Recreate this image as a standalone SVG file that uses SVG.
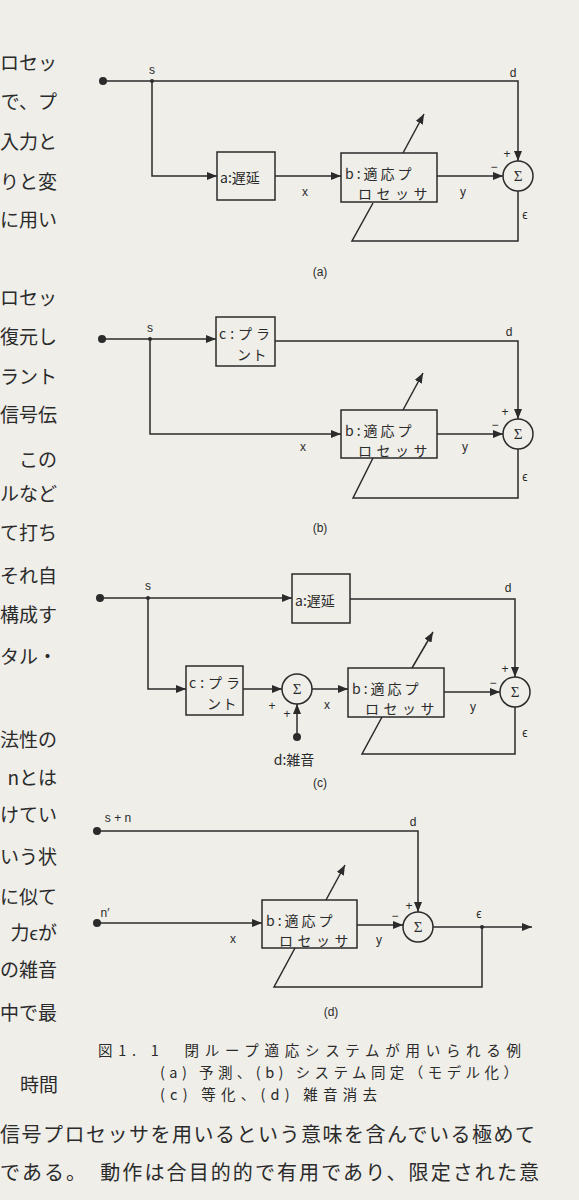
<svg xmlns="http://www.w3.org/2000/svg" width="579" height="1200" viewBox="0 0 579 1200">
<defs>
<marker id="ah" viewBox="0 0 10 8" refX="10" refY="4" markerWidth="10" markerHeight="8" markerUnits="userSpaceOnUse" orient="auto">
<path d="M0,0 L10,4 L0,8 z" fill="#2b2b2b"/>
</marker>
<style>
.bg{fill:#efeee9}
.ln{fill:none;stroke:#2b2b2b;stroke-width:1.5}
.ar{fill:none;stroke:#2b2b2b;stroke-width:1.5;marker-end:url(#ah)}
.box{fill:none;stroke:#2b2b2b;stroke-width:1.5}
.dot{fill:#2b2b2b}
.bt{font-family:"Noto Sans CJK JP","Noto Sans",sans-serif;font-size:14px;fill:#2b2b2b}
.b1{letter-spacing:3px}
.b2{letter-spacing:4.5px}
.p1{letter-spacing:4px}
.p2{letter-spacing:1.5px}
.lb{font-family:"Liberation Sans","DejaVu Sans",sans-serif;font-size:12px;fill:#2b2b2b;text-anchor:middle}
.sg{font-family:"Liberation Serif","DejaVu Serif",serif;font-size:15px;fill:#2b2b2b;text-anchor:middle}
.pg{font-family:"Noto Sans CJK JP",sans-serif;font-size:19px;fill:#2b2b2b;text-anchor:end}
.cap{font-family:"Noto Sans CJK JP",sans-serif;font-size:14.5px;fill:#2b2b2b}
.body{font-family:"Noto Sans CJK JP",sans-serif;font-size:20px;fill:#2b2b2b}
</style>
</defs>
<rect class="bg" x="0" y="0" width="579" height="1200"/>

<!-- page text, left column -->
<g id="page-left">
<text class="pg" x="57" y="70">ロセッ</text>
<text class="pg" x="57" y="109">で、プ</text>
<text class="pg" x="57" y="149">入力と</text>
<text class="pg" x="57" y="189">りと変</text>
<text class="pg" x="57" y="227">に用い</text>
<text class="pg" x="57" y="305">ロセッ</text>
<text class="pg" x="57" y="344">復元し</text>
<text class="pg" x="57" y="384">ラント</text>
<text class="pg" x="57" y="422">信号伝</text>
<text class="pg" x="57" y="467">この</text>
<text class="pg" x="57" y="501">ルなど</text>
<text class="pg" x="57" y="540">て打ち</text>
<text class="pg" x="57" y="583">それ自</text>
<text class="pg" x="57" y="622">構成す</text>
<text class="pg" x="57" y="664">タル・</text>
<text class="pg" x="57" y="747">法性の</text>
<text class="pg" x="57" y="785">nとは</text>
<text class="pg" x="57" y="822">けてい</text>
<text class="pg" x="57" y="864">いう状</text>
<text class="pg" x="57" y="904">に似て</text>
<text class="pg" x="57" y="940">力ϵが</text>
<text class="pg" x="57" y="977">の雑音</text>
<text class="pg" x="57" y="1020">中で最</text>
<text class="pg" x="58" y="1092">時間</text>
</g>

<!-- ===== (a) ===== -->
<g id="a-connectors">
<path class="ar" d="M103,81 H518 V161"/>
<path class="ar" d="M152,81 V176 H217"/>
<path class="ar" d="M275,176 H341"/>
<path class="ar" d="M437,176 H503"/>
<path class="ln" d="M518,191 V241 H352 L373,203"/>
<path class="ar" d="M403,153 L424,114"/>
</g>
<g id="a-input"><circle class="dot" cx="103" cy="81" r="4"/><circle class="dot" cx="152" cy="81" r="2"/></g>
<g id="a-delay"><rect class="box" x="217" y="152" width="58" height="48"/><text class="bt" x="220" y="183" font-size="17">a:遅延</text></g>
<g id="a-adaptive"><rect class="box" x="341" y="153" width="96" height="49"/><text class="bt"><tspan class="b1" x="345" y="178.5">b:適応プ</tspan><tspan class="b2" x="358" y="199">ロセッサ</tspan></text></g>
<g id="a-sum"><circle class="box" cx="518" cy="176" r="15"/><text class="sg" x="518" y="181">Σ</text></g>
<g id="a-labels">
<text class="lb" x="152" y="74">s</text>
<text class="lb" x="513" y="77">d</text>
<text class="lb" x="305" y="196">x</text>
<text class="lb" x="463" y="196">y</text>
<text class="lb" x="494" y="171">−</text>
<text class="lb" x="507" y="158">+</text>
<text class="lb" x="525" y="219">ϵ</text>
<text class="lb" x="320" y="276">(a)</text>
</g>

<!-- ===== (b) ===== -->
<g id="b-connectors">
<path class="ar" d="M102,339 H216"/>
<path class="ar" d="M275,341 H518 V419"/>
<path class="ar" d="M150,339 V434 H341"/>
<path class="ar" d="M437,434 H503"/>
<path class="ln" d="M518,449 V498 H353 L373,458"/>
<path class="ar" d="M403,410 L423,373"/>
</g>
<g id="b-input"><circle class="dot" cx="102" cy="339" r="4"/><circle class="dot" cx="150" cy="339" r="2"/></g>
<g id="b-plant"><rect class="box" x="216" y="317" width="59" height="49"/><text class="bt"><tspan class="p1" x="219" y="339">c:プラ</tspan><tspan class="p2" x="237" y="360">ント</tspan></text></g>
<g id="b-adaptive"><rect class="box" x="341" y="410" width="96" height="48"/><text class="bt"><tspan class="b1" x="345" y="435.5">b:適応プ</tspan><tspan class="b2" x="358" y="456">ロセッサ</tspan></text></g>
<g id="b-sum"><circle class="box" cx="518" cy="434" r="15"/><text class="sg" x="518" y="439">Σ</text></g>
<g id="b-labels">
<text class="lb" x="150" y="332">s</text>
<text class="lb" x="509" y="336">d</text>
<text class="lb" x="303" y="451">x</text>
<text class="lb" x="465" y="451">y</text>
<text class="lb" x="495" y="429">−</text>
<text class="lb" x="505" y="416">+</text>
<text class="lb" x="525" y="481">ϵ</text>
<text class="lb" x="320" y="532">(b)</text>
</g>

<!-- ===== (c) ===== -->
<g id="c-connectors">
<path class="ar" d="M100,598 H292"/>
<path class="ar" d="M350,599 H515 V677"/>
<path class="ar" d="M148,598 V689 H186"/>
<path class="ar" d="M243,689 H282"/>
<path class="ar" d="M297,737 V704"/>
<path class="ar" d="M312,689 H348"/>
<path class="ar" d="M444,692 H500"/>
<path class="ln" d="M515,707 V754 H362 L382,717"/>
<path class="ar" d="M412,668 L433,632"/>
</g>
<g id="c-input"><circle class="dot" cx="100" cy="598" r="4"/><circle class="dot" cx="148" cy="598" r="2"/></g>
<g id="c-delay"><rect class="box" x="292" y="574" width="58" height="49"/><text class="bt" x="295" y="606" font-size="17">a:遅延</text></g>
<g id="c-plant"><rect class="box" x="186" y="666" width="57" height="49"/><text class="bt"><tspan class="p1" x="189" y="688">c:プラ</tspan><tspan class="p2" x="207" y="709">ント</tspan></text></g>
<g id="c-noise-sum"><circle class="box" cx="297" cy="689" r="15"/><text class="sg" x="297" y="694">Σ</text></g>
<g id="c-noise"><circle class="dot" cx="297" cy="737" r="4"/><text class="bt" x="294" y="765" text-anchor="middle" font-size="16">d:雑音</text></g>
<g id="c-adaptive"><rect class="box" x="348" y="668" width="96" height="49"/><text class="bt"><tspan class="b1" x="352" y="693.5">b:適応プ</tspan><tspan class="b2" x="365" y="714">ロセッサ</tspan></text></g>
<g id="c-sum"><circle class="box" cx="515" cy="692" r="15"/><text class="sg" x="515" y="697">Σ</text></g>
<g id="c-labels">
<text class="lb" x="148" y="590">s</text>
<text class="lb" x="508" y="592">d</text>
<text class="lb" x="272" y="710">+</text>
<text class="lb" x="287" y="718">+</text>
<text class="lb" x="327" y="709">x</text>
<text class="lb" x="473" y="711">y</text>
<text class="lb" x="493" y="687">−</text>
<text class="lb" x="505" y="673">+</text>
<text class="lb" x="525" y="737">ϵ</text>
<text class="lb" x="320" y="787">(c)</text>
</g>

<!-- ===== (d) ===== -->
<g id="d-connectors">
<path class="ar" d="M97,831 H418 V912"/>
<path class="ar" d="M97,923 H262"/>
<path class="ar" d="M357,925 H403"/>
<path class="ar" d="M433,927 H532"/>
<path class="ln" d="M482,927 V987 H274 L295,948"/>
<path class="ar" d="M326,900 L345,865"/>
</g>
<g id="d-inputs"><circle class="dot" cx="97" cy="831" r="4"/><circle class="dot" cx="97" cy="923" r="4"/><circle class="dot" cx="482" cy="927" r="2"/></g>
<g id="d-adaptive"><rect class="box" x="262" y="900" width="95" height="48"/><text class="bt"><tspan class="b1" x="266" y="925.5">b:適応プ</tspan><tspan class="b2" x="279" y="946">ロセッサ</tspan></text></g>
<g id="d-sum"><circle class="box" cx="418" cy="927" r="15"/><text class="sg" x="418" y="932">Σ</text></g>
<g id="d-labels">
<text class="lb" x="118" y="822">s + n</text>
<text class="lb" x="413" y="826">d</text>
<text class="lb" x="105" y="917">n′</text>
<text class="lb" x="233" y="943">x</text>
<text class="lb" x="379" y="944">y</text>
<text class="lb" x="395" y="920">−</text>
<text class="lb" x="409" y="910">+</text>
<text class="lb" x="479" y="918">ϵ</text>
<text class="lb" x="331" y="1016">(d)</text>
</g>

<!-- caption -->
<g id="caption">
<text class="cap"><tspan x="98" y="1056" textLength="423" lengthAdjust="spacing">図1. 1　閉ループ適応システムが用いられる例</tspan><tspan x="160" y="1078" textLength="358" lengthAdjust="spacing">(a) 予測、(b) システム同定（モデル化）</tspan><tspan x="160" y="1100" textLength="217" lengthAdjust="spacing">(c) 等化、(d) 雑音消去</tspan></text>
</g>

<!-- page text, bottom -->
<g id="page-bottom">
<text class="body" x="0" y="1142" textLength="535" lengthAdjust="spacing">信号プロセッサを用いるという意味を含んでいる極めて</text>
<text class="body" x="0" y="1180" textLength="539" lengthAdjust="spacing">である。　動作は合目的的で有用であり、限定された意</text>
</g>
</svg>
